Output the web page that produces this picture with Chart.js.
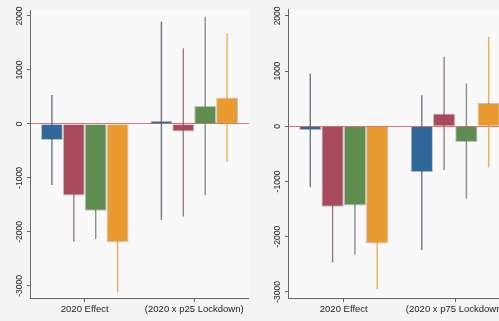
<!DOCTYPE html>
<html>
<head>
<meta charset="utf-8">
<script src="https://cdn.jsdelivr.net/npm/chart.js@4.4.1/dist/chart.umd.min.js"></script>
<style>
  html, body { margin: 0; padding: 0; background: #f4f4f4; overflow: hidden; }
  body { width: 499px; height: 321px; position: relative; }
  .panel { position: absolute; top: 0; height: 321px; }
  #left { left: 0; width: 249px; }
  #right { left: 249px; width: 262px; }
</style>
</head>
<body>
<div class="panel" id="left"><canvas id="chartLeft"></canvas></div>
<div class="panel" id="right"><canvas id="chartRight"></canvas></div>
<script>
// categories and ticks
const leftCategories = ["2020 Effect", "(2020 x p25 Lockdown)"]
const rightCategories = ["2020 Effect", "(2020 x p75 Lockdown)"]
const yTicks = [-3000, -2000, -1000, 0, 1000, 2000]

const seriesNames = ["Series 1", "Series 2", "Series 3", "Series 4"]
const barColors = ["#30679a", "#a94a5c", "#5f8d4f", "#ea9b30"]
const ciColors = ["rgba(70,85,105,0.8)", "rgba(120,85,95,0.75)", "rgba(100,110,100,0.75)", "rgba(235,160,60,0.85)"]

// left panel (p25): estimate, lower, upper per series
const leftEst = [[-296, 58], [-1327, -142], [-1611, 333], [-2191, 487]]
const leftLo = [[-1130, -1778], [-2180, -1716], [-2130, -1315], [-3124, -705]]
const leftHi = [[537, 1894], [-474, 1400], [-1092, 1987], [-1258, 1679]]

// right panel (p75)
const rightEst = [[-73, -830], [-1455, 230], [-1436, -285], [-2121, 424]]
const rightLo = [[-1103, -2242], [-2467, -790], [-2327, -1309], [-2951, -745]]
const rightHi = [[958, 564], [-443, 1260], [-545, 776], [-1291, 1624]]

const fontFamily = "'Liberation Sans', Arial, sans-serif"

// error bars drawn from the y scale, behind the bars
const errorBars = {
    id: 'errorBars',
    beforeDatasetsDraw(chart, args, opts) {
        const ctx = chart.ctx
        const y = chart.scales.y
        chart.data.datasets.forEach((ds, i) => {
            const meta = chart.getDatasetMeta(i)
            meta.data.forEach((bar, j) => {
                ctx.save()
                ctx.strokeStyle = ciColors[i]
                ctx.lineWidth = 1.4
                ctx.beginPath()
                ctx.moveTo(bar.x, y.getPixelForValue(opts.lo[i][j]))
                ctx.lineTo(bar.x, y.getPixelForValue(opts.hi[i][j]))
                ctx.stroke()
                ctx.restore()
            })
        })
    }
}

const plotBackground = {
    id: 'plotBackground',
    beforeDraw(chart) {
        const { ctx, chartArea } = chart
        ctx.save()
        ctx.fillStyle = '#f9f9fa'
        ctx.fillRect(chartArea.left, chartArea.top, chartArea.right - chartArea.left, chartArea.bottom - chartArea.top)
        ctx.restore()
    }
}

function makeChart(id, categories, est, lo, hi, yMin, yMax, yWidth, topPad) {
    const ctx = document.getElementById(id).getContext('2d')
    return new Chart(ctx, {
        type: 'bar',
        data: {
            labels: categories,
            datasets: est.map((values, i) => ({
                label: seriesNames[i],
                data: values,
                backgroundColor: barColors[i],
                borderColor: 'rgba(40,40,40,0.25)',
                borderWidth: 1,
                categoryPercentage: 0.8,
                barPercentage: 1.0
            }))
        },
        options: {
            responsive: true,
            maintainAspectRatio: false,
            animation: false,
            layout: { padding: { top: topPad, left: 0, right: 0, bottom: 0 } },
            plugins: {
                legend: { display: false },
                tooltip: { enabled: false },
                errorBars: { lo: lo, hi: hi }
            },
            scales: {
                x: {
                    grid: {
                        offset: false,
                        drawOnChartArea: false,
                        tickLength: 4,
                        tickColor: '#666'
                    },
                    border: { color: '#666', width: 1 },
                    ticks: {
                        color: '#222',
                        font: { family: fontFamily, size: 9.5 },
                        maxRotation: 0,
                        autoSkip: false,
                        padding: 2
                    },
                    afterFit(scale) { scale.height = 23 }
                },
                y: {
                    min: yMin,
                    max: yMax,
                    afterBuildTicks(scale) {
                        scale.ticks = yTicks.map(v => ({ value: v }))
                    },
                    grid: {
                        color: (c) => c.tick && c.tick.value === 0 ? 'rgba(215,90,100,0.85)' : 'transparent',
                        lineWidth: 1,
                        tickLength: 3,
                        tickColor: '#666'
                    },
                    border: { color: '#666', width: 1 },
                    ticks: {
                        color: '#222',
                        font: { family: fontFamily, size: 8.5 },
                        minRotation: 90,
                        maxRotation: 90,
                        crossAlign: 'center',
                        padding: -4,
                        callback: (value) => String(value)
                    },
                    afterFit(scale) { scale.width = yWidth }
                }
            }
        },
        plugins: [plotBackground, errorBars]
    })
}

makeChart('chartLeft', leftCategories, leftEst, leftLo, leftHi, -3225, 2110, 30, 10)
makeChart('chartRight', rightCategories, rightEst, rightLo, rightHi, -3110, 2125, 39, 9)
</script>
</body>
</html>
